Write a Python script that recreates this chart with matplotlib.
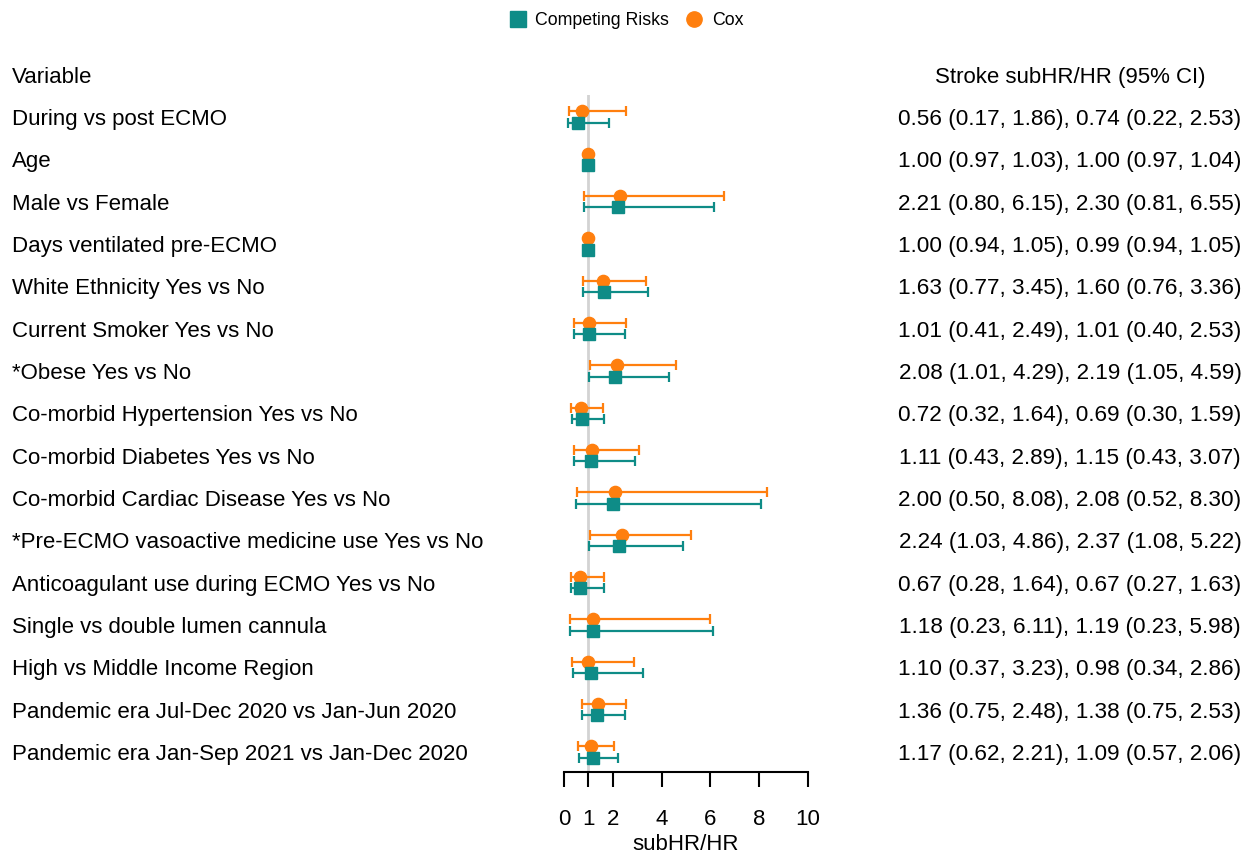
import matplotlib
matplotlib.use('Agg')
import matplotlib.pyplot as plt
from matplotlib import transforms
from matplotlib.lines import Line2D

plt.rcParams['font.family'] = ['Liberation Sans', 'DejaVu Sans']

TEAL = '#0E8C87'
ORANGE = '#FF7F0E'

variables = [
    'During vs post ECMO',
    'Age',
    'Male vs Female',
    'Days ventilated pre-ECMO',
    'White Ethnicity Yes vs No',
    'Current Smoker Yes vs No',
    '*Obese Yes vs No',
    'Co-morbid Hypertension Yes vs No',
    'Co-morbid Diabetes Yes vs No',
    'Co-morbid Cardiac Disease Yes vs No',
    '*Pre-ECMO vasoactive medicine use Yes vs No',
    'Anticoagulant use during ECMO Yes vs No',
    'Single vs double lumen cannula',
    'High vs Middle Income Region',
    'Pandemic era Jul-Dec 2020 vs Jan-Jun 2020',
    'Pandemic era Jan-Sep 2021 vs Jan-Dec 2020',
]

# competing risks (subHR)
sub_hr = [0.56, 1.00, 2.21, 1.00, 1.63, 1.01, 2.08, 0.72, 1.11, 2.00, 2.24, 0.67, 1.18, 1.10, 1.36, 1.17]
sub_lo = [0.17, 0.97, 0.80, 0.94, 0.77, 0.41, 1.01, 0.32, 0.43, 0.50, 1.03, 0.28, 0.23, 0.37, 0.75, 0.62]
sub_hi = [1.86, 1.03, 6.15, 1.05, 3.45, 2.49, 4.29, 1.64, 2.89, 8.08, 4.86, 1.64, 6.11, 3.23, 2.48, 2.21]

# Cox (HR)
cox_hr = [0.74, 1.00, 2.30, 0.99, 1.60, 1.01, 2.19, 0.69, 1.15, 2.08, 2.37, 0.67, 1.19, 0.98, 1.38, 1.09]
cox_lo = [0.22, 0.97, 0.81, 0.94, 0.76, 0.40, 1.05, 0.30, 0.43, 0.52, 1.08, 0.27, 0.23, 0.34, 0.75, 0.57]
cox_hi = [2.53, 1.04, 6.55, 1.05, 3.36, 2.53, 4.59, 1.59, 3.07, 8.30, 5.22, 1.63, 5.98, 2.86, 2.53, 2.06]

xticks = [0, 1, 2, 4, 6, 8, 10]

W, H = 1258, 855
fig = plt.figure(figsize=(W / 100, H / 100), dpi=100)
ax = fig.add_axes([564 / W, 1 - 772 / H, 244 / W, (772 - 95) / H])

n = len(variables)
rows = list(range(n))
off = 0.13
txt_dy = 0.06  # nudge text down a little to sit on the row centre

ax.axvline(1, color='#D3D3D3', lw=2, zorder=0)

for i in rows:
    ax.errorbar(cox_hr[i], i - off,
                xerr=[[cox_hr[i] - cox_lo[i]], [cox_hi[i] - cox_hr[i]]],
                fmt='o', color=ORANGE, ms=8.8, elinewidth=1.6, capsize=3.6,
                capthick=1.6, clip_on=False, zorder=3)
    ax.errorbar(sub_hr[i], i + off,
                xerr=[[sub_hr[i] - sub_lo[i]], [sub_hi[i] - sub_hr[i]]],
                fmt='s', color=TEAL, ms=9, elinewidth=1.6, capsize=3.6,
                capthick=1.6, clip_on=False, zorder=4)

ax.set_xlim(0, 10)
ax.set_ylim(n - 1 + 20 / 42.33, -22 / 42.33)
ax.set_yticks([])
for s in ['top', 'left', 'right']:
    ax.spines[s].set_visible(False)
ax.spines['bottom'].set_linewidth(1.5)
ax.set_xticks(xticks)
ax.tick_params(axis='x', length=11, width=1.5, labelsize=16, pad=15.5)
ax.set_xlabel('subHR/HR', fontsize=16, labelpad=3)
ax.patch.set_visible(False)

# text columns
trans = transforms.blended_transform_factory(fig.transFigure, ax.transData)
ax.text(12 / W, -1 + txt_dy, 'Variable', transform=trans, ha='left', va='center',
        fontsize=16, clip_on=False)
ax.text(1070 / W, -1 + txt_dy, 'Stroke subHR/HR (95% CI)', transform=trans,
        ha='center', va='center', fontsize=16, clip_on=False)
for i in rows:
    ax.text(12 / W, i + txt_dy, variables[i], transform=trans, ha='left',
            va='center', fontsize=16, clip_on=False)
    label = (f'{sub_hr[i]:.2f} ({sub_lo[i]:.2f}, {sub_hi[i]:.2f}), '
             f'{cox_hr[i]:.2f} ({cox_lo[i]:.2f}, {cox_hi[i]:.2f})')
    ax.text(1070 / W, i + txt_dy, label, transform=trans, ha='center',
            va='center', fontsize=16.2, clip_on=False)

handles = [
    Line2D([], [], marker='s', color=TEAL, ls='none', ms=11),
    Line2D([], [], marker='o', color=ORANGE, ls='none', ms=11),
]
fig.legend(handles, ['Competing Risks', 'Cox'], loc='upper center',
           bbox_to_anchor=(0.497, 1.005), ncol=2, frameon=False, fontsize=12.8,
           handletextpad=0.4, columnspacing=0.8, handlelength=1.2)

fig.savefig('out.png', dpi=100)
